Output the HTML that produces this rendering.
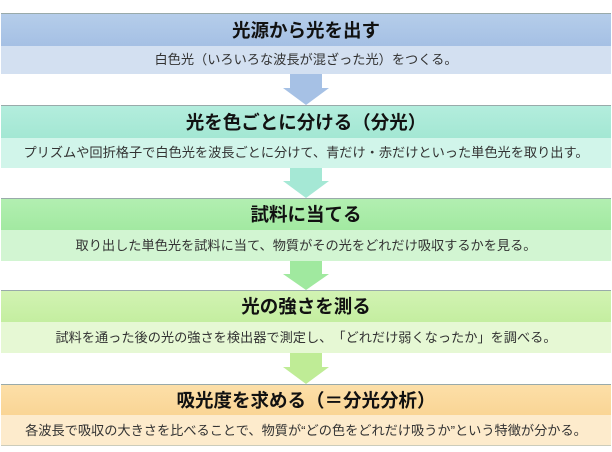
<!DOCTYPE html>
<html><head><meta charset="utf-8"><style>
body{margin:0;width:612px;height:452px;background:#fff;font-family:"Liberation Sans","Noto Sans CJK JP",sans-serif;position:relative;overflow:hidden}
.h,.b{position:absolute;left:1px;width:610px;text-align:center;box-sizing:border-box;white-space:nowrap;text-spacing-trim:space-all}
.h{font-weight:bold;font-size:18.5px;color:#111;border-top:1px solid #9aa}
.b{font-size:13.2px;color:#333}
svg{position:absolute;left:0;top:0}
</style></head><body>
<div class="h" style="top:13px;height:33px;line-height:33px;background:linear-gradient(#b5cdea,#a5c0e4)">光源から光を出す</div>
<div class="b" style="top:46px;height:28px;line-height:28px;background:#d3e0f1">白色光（いろいろな波長が混ざった光）をつくる。</div>
<div class="h" style="top:105px;height:33px;line-height:33px;background:linear-gradient(#b3eddd,#a3e7d3)">光を色ごとに分ける（分光）</div>
<div class="b" style="top:138px;height:30px;line-height:30px;background:#d1f5ea">プリズムや回折格子で白色光を波長ごとに分けて、青だけ・赤だけといった単色光を取り出す。</div>
<div class="h" style="top:198px;height:32px;line-height:32px;background:linear-gradient(#b2efb1,#a2e9a1)">試料に当てる</div>
<div class="b" style="top:230px;height:31px;line-height:31px;background:#d2f5d2">取り出した単色光を試料に当て、物質がその光をどれだけ吸収するかを見る。</div>
<div class="h" style="top:290px;height:32px;line-height:32px;background:linear-gradient(#d2f3b3,#c4eea0)">光の強さを測る</div>
<div class="b" style="top:322px;height:31px;line-height:31px;background:#e6f8d4">試料を通った後の光の強さを検出器で測定し、「どれだけ弱くなったか」を調べる。</div>
<div class="h" style="top:384px;height:31px;line-height:31px;background:linear-gradient(#fcdfa8,#fad595)">吸光度を求める（＝分光分析）</div>
<div class="b" style="top:415px;height:31px;line-height:31px;background:#fdebcc;border-bottom:1px solid #ccb">各波長で吸収の大きさを比べることで、物質が“どの色をどれだけ吸うか”という特徴が分かる。</div>
<svg width="612" height="452">
<polygon points="290,74 322,74 322,88 329,88 306,105 283,88 290,88" fill="#a6c1e5"/>
<polygon points="290,168 322,168 322,181 329,181 306,198 283,181 290,181" fill="#a5e8d5"/>
<polygon points="290,261 322,261 322,274 329,274 306,290 283,274 290,274" fill="#a0e99f"/>
<polygon points="290,353 322,353 322,367 329,367 306,384 283,367 290,367" fill="#bfec96"/>
</svg>
</body></html>
